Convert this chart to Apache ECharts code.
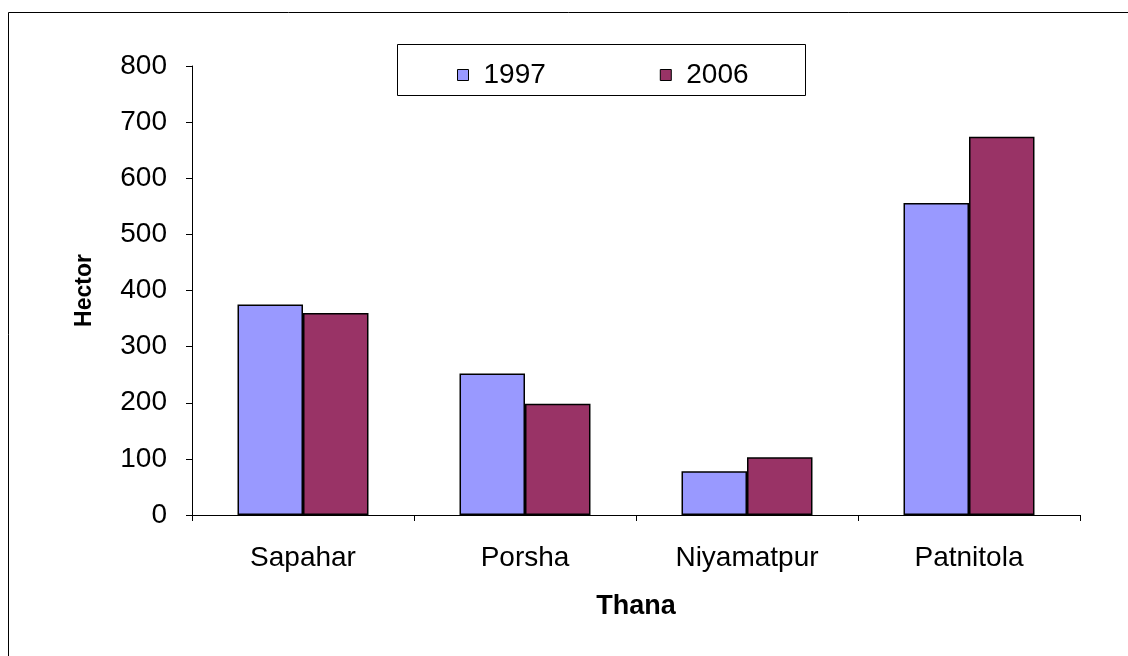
<!DOCTYPE html>
<html>
<head>
<meta charset="utf-8">
<script src="https://cdn.jsdelivr.net/npm/echarts@6/dist/echarts.min.js"></script>
<style>
  html, body { margin: 0; padding: 0; background: #fff; }
  #chart { width: 1128px; height: 656px; }
</style>
</head>
<body>
<div id="chart"></div>
<script>
// Area (hectares) by thana, two survey years
const thanas = ['Sapahar', 'Porsha', 'Niyamatpur', 'Patnitola'];
const area1997 = [375, 252, 78, 556];
const area2006 = [360, 198, 103, 674];
const yTicks = [0, 100, 200, 300, 400, 500, 600, 700, 800];

const FONT = '"Liberation Sans", Arial, sans-serif';

const chart = echarts.init(document.getElementById('chart'), null, { renderer: 'canvas' });

chart.setOption({
  backgroundColor: '#ffffff',
  animation: false,
  graphic: [
    { type: 'rect', shape: { x: 8.5, y: 12.5, width: 1140, height: 660 },
      style: { fill: 'none', stroke: '#000', lineWidth: 1 }, silent: true },
    { type: 'rect', shape: { x: 397.5, y: 44.5, width: 408, height: 51 },
      style: { fill: '#fff', stroke: '#000', lineWidth: 1 }, silent: true, z: 0 }
  ],
  legend: {
    left: 452, top: 56, z: 10,
    itemWidth: 11, itemHeight: 11, itemGap: 114,
    icon: 'rect',
    itemStyle: { borderColor: '#000', borderWidth: 1 },
    textStyle: { fontFamily: FONT, fontSize: 28, color: '#000', padding: [0, 0, 0, 10] },
    data: ['1997', '2006']
  },
  grid: { left: 192, right: 48, top: 66, bottom: 141 },
  xAxis: {
    type: 'category',
    data: thanas,
    name: 'Thana',
    nameLocation: 'middle',
    nameGap: 78,
    nameTextStyle: { fontFamily: FONT, fontSize: 27, fontWeight: 'bold', color: '#000' },
    axisLine: { lineStyle: { color: '#000', width: 1 } },
    axisTick: { show: true, length: 6, lineStyle: { color: '#000' } },
    axisLabel: { fontFamily: FONT, fontSize: 28, color: '#000', margin: 29 }
  },
  yAxis: {
    type: 'value',
    min: yTicks[0], max: yTicks[yTicks.length - 1], interval: 100,
    name: 'Hector',
    nameLocation: 'middle',
    nameGap: 96,
    nameRotate: 90,
    nameTextStyle: { fontFamily: FONT, fontSize: 23, fontWeight: 'bold', color: '#000' },
    axisLine: { show: true, lineStyle: { color: '#000', width: 1 } },
    axisTick: { show: true, length: 6, lineStyle: { color: '#000' } },
    splitLine: { show: false },
    axisLabel: { fontFamily: FONT, fontSize: 28, color: '#000', margin: 25 }
  },
  series: [
    {
      name: '1997', type: 'bar', data: area1997,
      barGap: '0%', barCategoryGap: '41%',
      itemStyle: { color: '#9999FF', borderColor: '#000', borderWidth: 1.5 }
    },
    {
      name: '2006', type: 'bar', data: area2006,
      itemStyle: { color: '#993366', borderColor: '#000', borderWidth: 1.5 }
    }
  ]
});
</script>
</body>
</html>
